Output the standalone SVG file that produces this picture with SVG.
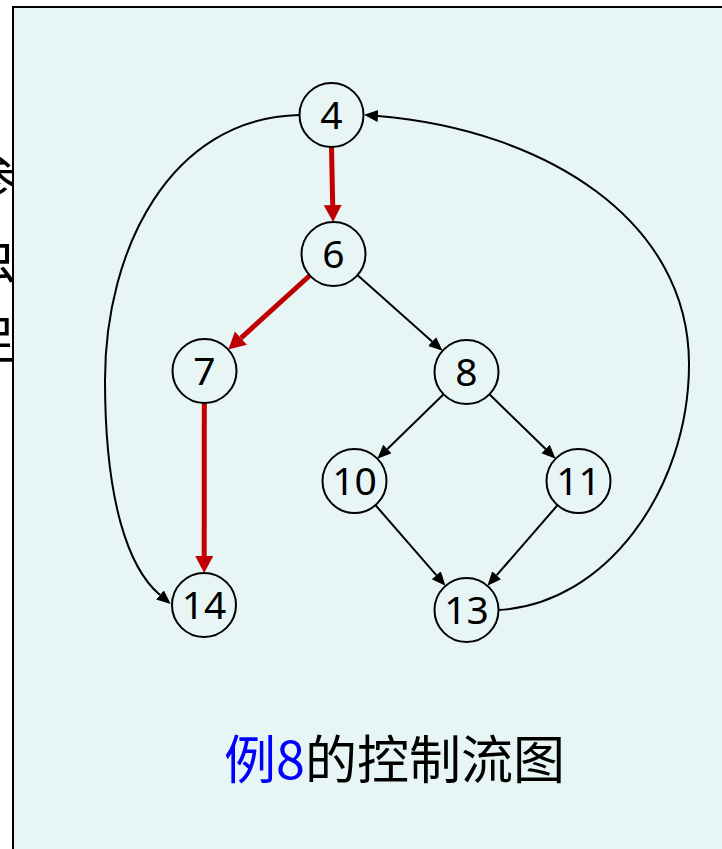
<svg xmlns="http://www.w3.org/2000/svg" width="722" height="849" viewBox="0 0 722 849">
  <defs>
    <style>
      .node circle { fill: none; stroke: #000; stroke-width: 2; }
      .node text { font-family: "Noto Sans", "Open Sans", sans-serif; font-size: 39px; fill: #000; text-anchor: middle; }
      .edge { fill: none; stroke: #000; stroke-width: 2; }
      .edge.hot { stroke: #C00000; stroke-width: 5; }
      .frag { font-family: "Noto Sans CJK SC", sans-serif; font-size: 50px; fill: #000; text-anchor: end; }
      .caption { font-family: "Noto Sans CJK SC", sans-serif; font-size: 52px; fill: #000; }
    </style>
    <marker id="arrowBlack" markerUnits="userSpaceOnUse" markerWidth="16" markerHeight="14" refX="0" refY="6" orient="auto">
      <path d="M0,0 L14,6 L0,12 z" fill="#000"/>
    </marker>
    <marker id="arrowRed" markerUnits="userSpaceOnUse" markerWidth="20" markerHeight="20" refX="0" refY="9" orient="auto">
      <path d="M0,0 L17,9 L0,18 z" fill="#C00000"/>
    </marker>
    <clipPath id="leftClip">
      <rect x="0" y="0" width="13" height="849"/>
    </clipPath>
  </defs>

  <rect x="0" y="0" width="722" height="849" fill="#FFFFFF"/>
  <g id="fragments" clip-path="url(#leftClip)">
    <text class="frag" x="16" y="196">参</text>
    <text class="frag" x="16" y="278">虫</text>
    <text class="frag" x="16" y="358">足</text>
  </g>
  <rect id="panel" x="13" y="7" width="720" height="850" fill="#E8F5F5" stroke="#000" stroke-width="2"/>

  <g id="connectors">
    <!-- 4 -> 6 (red) -->
    <line class="edge hot" x1="331.5" y1="147" x2="332.7" y2="205" marker-end="url(#arrowRed)"/>
    <!-- 6 -> 7 (red) -->
    <line class="edge hot" x1="309.8" y1="275.5" x2="240.9" y2="338.1" marker-end="url(#arrowRed)"/>
    <!-- 7 -> 14 (red) -->
    <line class="edge hot" x1="204.3" y1="403" x2="204.2" y2="556" marker-end="url(#arrowRed)"/>
    <!-- 6 -> 8 -->
    <line class="edge" x1="357.4" y1="275" x2="432.1" y2="341.5" marker-end="url(#arrowBlack)"/>
    <!-- 8 -> 10 -->
    <line class="edge" x1="443.6" y1="394.3" x2="387.4" y2="449" marker-end="url(#arrowBlack)"/>
    <!-- 8 -> 11 -->
    <line class="edge" x1="489.4" y1="394.3" x2="545.6" y2="449" marker-end="url(#arrowBlack)"/>
    <!-- 10 -> 13 -->
    <line class="edge" x1="375.5" y1="505.2" x2="436.3" y2="575.2" marker-end="url(#arrowBlack)"/>
    <!-- 11 -> 13 -->
    <line class="edge" x1="557.5" y1="505.2" x2="496.7" y2="575.2" marker-end="url(#arrowBlack)"/>
    <!-- 4 -> 14 (curve left) -->
    <path class="edge" d="M299,115 C170,118 105,250 105,380 C105,500 128,568 160,595" marker-end="url(#arrowBlack)"/>
    <!-- 13 -> 4 (curve right) -->
    <path class="edge" d="M498,610 C605,605 689,490 689,364 C689,220 545,130 378,116" marker-end="url(#arrowBlack)"/>
  </g>

  <g id="node-4" class="node"><circle cx="331.5" cy="115" r="32"/><text x="331.5" y="129">4</text></g>
  <g id="node-6" class="node"><circle cx="333.5" cy="254" r="32"/><text x="333.5" y="268">6</text></g>
  <g id="node-7" class="node"><circle cx="204.5" cy="371" r="32"/><text x="204.5" y="385">7</text></g>
  <g id="node-8" class="node"><circle cx="466.5" cy="372" r="32"/><text x="466.5" y="386">8</text></g>
  <g id="node-10" class="node"><circle cx="354.5" cy="481" r="32"/><text x="354.5" y="495">10</text></g>
  <g id="node-11" class="node"><circle cx="578.5" cy="481" r="32"/><text x="578.5" y="495">11</text></g>
  <g id="node-13" class="node"><circle cx="466.5" cy="610" r="32"/><text x="466.5" y="624">13</text></g>
  <g id="node-14" class="node"><circle cx="204" cy="605" r="32"/><text x="204" y="619">14</text></g>

  <text id="caption" class="caption" x="224" y="779"><tspan fill="#0000FF">例8</tspan>的控制流图</text>
</svg>
